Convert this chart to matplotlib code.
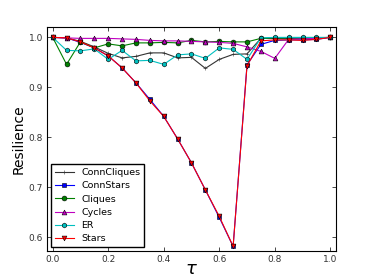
import matplotlib

matplotlib.use("Agg")

import matplotlib.pyplot as plt
import numpy as np

tau = [0.0, 0.05, 0.1, 0.15, 0.2, 0.25, 0.3, 0.35, 0.4, 0.45, 0.5,
       0.55, 0.6, 0.65, 0.7, 0.75, 0.8, 0.85, 0.9, 0.95, 1.0]

conn_cliques = [1.0, 0.999, 0.992, 0.981, 0.968, 0.959, 0.962, 0.969, 0.969, 0.959, 0.960,
                0.938, 0.956, 0.966, 0.967, 0.998, 0.998, 0.998, 0.998, 0.999, 1.0]
conn_stars = [1.0, 0.999, 0.990, 0.979, 0.963, 0.939, 0.909, 0.876, 0.842, 0.797, 0.749,
              0.695, 0.640, 0.582, 0.945, 0.986, 0.994, 0.995, 0.995, 0.996, 1.0]
cliques = [1.0, 0.946, 0.991, 0.979, 0.987, 0.983, 0.989, 0.989, 0.990, 0.989, 0.994,
           0.991, 0.992, 0.991, 0.991, 0.998, 0.999, 0.999, 0.999, 0.999, 1.0]
cycles = [1.0, 0.999, 0.998, 0.998, 0.998, 0.997, 0.996, 0.994, 0.993, 0.993, 0.992,
          0.991, 0.990, 0.988, 0.981, 0.972, 0.958, 0.996, 0.997, 0.998, 1.0]
er = [1.0, 0.974, 0.973, 0.977, 0.956, 0.974, 0.953, 0.954, 0.946, 0.965, 0.967,
      0.958, 0.979, 0.976, 0.956, 0.999, 1.0, 1.0, 1.0, 1.0, 1.0]
stars = [1.0, 0.999, 0.991, 0.979, 0.963, 0.939, 0.909, 0.873, 0.842, 0.797, 0.749,
         0.695, 0.642, 0.582, 0.943, 0.993, 0.995, 0.995, 0.994, 0.996, 1.0]

series = [
    ("ConnCliques", conn_cliques, "#333333", "+"),
    ("ConnStars", conn_stars, "b", "s"),
    ("Cliques", cliques, "g", "o"),
    ("Cycles", cycles, "m", "^"),
    ("ER", er, "c", "h"),
    ("Stars", stars, "r", "v"),
]

fig = plt.figure(figsize=(3.74, 2.8), dpi=100)
ax = fig.add_axes([0.126, 0.104, 0.772, 0.8])

for name, values, color, marker in series:
    ax.plot(tau, values, color=color, marker=marker,
            markersize=3 if marker == "+" else 3.5,
            markeredgecolor="k" if marker != "+" else color,
            markeredgewidth=0.4, linewidth=0.8, label=name)

ax.set_xlim(-0.02, 1.02)
ax.set_ylim(0.573, 1.021)
ax.set_xticks(np.arange(0.0, 1.01, 0.2))
ax.set_yticks([0.6, 0.7, 0.8, 0.9, 1.0])
ax.tick_params(direction="in", top=True, right=True, labelsize=6.5,
               length=3, width=0.5, labelcolor="#333333", pad=3)
for spine in ax.spines.values():
    spine.set_linewidth(0.8)
ax.set_xlabel(r"$\tau$", fontsize=13, labelpad=-3)
ax.set_ylabel("Resilience", fontsize=10, labelpad=2)

ax.legend(loc="lower left", fontsize=6.8, fancybox=False, edgecolor="k",
          handlelength=2.0, borderpad=0.4, labelspacing=0.45, framealpha=1,
          borderaxespad=0.4)

fig.savefig("out.png", dpi=100)
